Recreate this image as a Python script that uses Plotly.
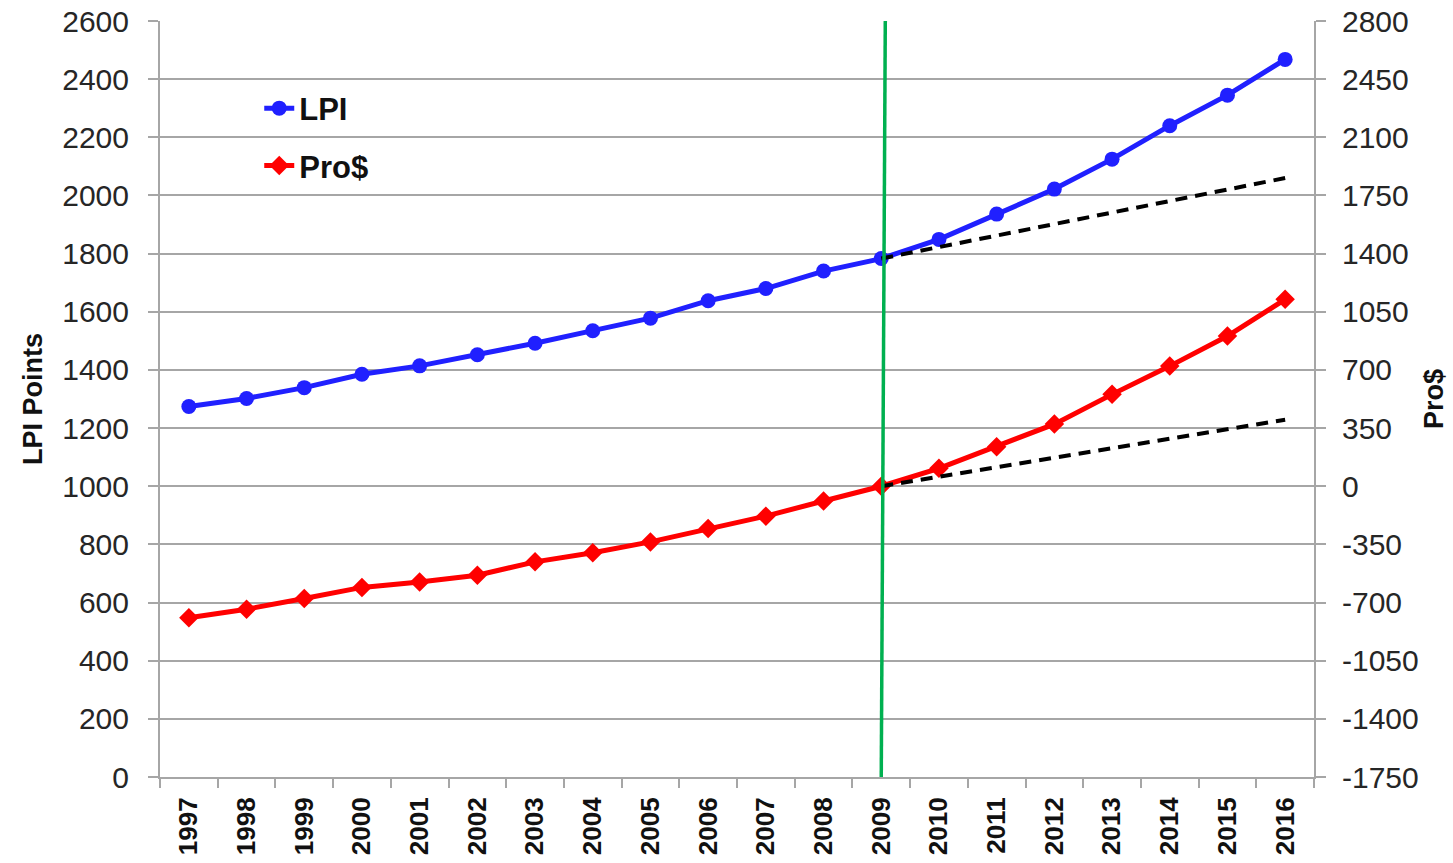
import plotly.graph_objects as go

years = [str(y) for y in range(1997, 2017)]
lpi = [1274, 1302, 1339, 1385, 1414, 1452, 1492, 1535, 1578, 1638,
       1680, 1740, 1783, 1849, 1936, 2022, 2125, 2240, 2345, 2468]
pros = [-791, -740, -676, -609, -576, -536, -455, -400, -335, -255,
        -180, -89, 0, 108, 238, 374, 553, 723, 904, 1125]
trend_years = ["2009", "2016"]
lpi_trend = [1783, 2060]
pros_trend = [0, 400]
left_ticks = list(range(0, 2601, 200))
right_ticks = list(range(-1750, 2801, 350))
right_labels = [str(v) for v in right_ticks]  # plain hyphen minus as in the reference

FONT = "Liberation Sans, Arial, sans-serif"
GRID = "#a6a6a6"
TXT = "#262626"

fig = go.Figure()
fig.add_trace(go.Scatter(x=years, y=lpi, name="LPI", mode="lines+markers", legendgroup="a",
                         line=dict(color="#2020ff", width=5),
                         marker=dict(symbol="circle", size=15, color="#2020ff"), yaxis="y"))
fig.add_trace(go.Scatter(x=years, y=pros, name="Pro$", mode="lines+markers", legendgroup="b",
                         line=dict(color="#ff0000", width=5),
                         marker=dict(symbol="diamond", size=15, color="#ff0000"), yaxis="y2"))
fig.add_trace(go.Scatter(x=trend_years, y=lpi_trend, mode="lines", showlegend=False,
                         line=dict(color="black", width=4, dash="12px,8px"), yaxis="y"))
fig.add_trace(go.Scatter(x=trend_years, y=pros_trend, mode="lines", showlegend=False,
                         line=dict(color="black", width=4, dash="12px,8px"), yaxis="y2"))

# vertical green marker line at 2009 (category index 12)
fig.add_shape(type="line", xref="x", yref="y", x0=12, y0=0, x1=12.07, y1=2600,
              line=dict(color="#00b050", width=3.5), layer="above")

fig.update_layout(
    width=1453, height=863,
    margin=dict(l=160, r=139, t=21, b=86, autoexpand=False),
    paper_bgcolor="white", plot_bgcolor="white",
    font=dict(family=FONT, color=TXT, size=28),
    legend=dict(x=0.086, y=0.92, xanchor="left", yanchor="top",
                font=dict(size=31, color="#111111", family=FONT, weight="bold"),
                bgcolor="rgba(0,0,0,0)", tracegroupgap=14, traceorder="grouped"),
    xaxis=dict(type="category", categoryorder="array", categoryarray=years,
               tickson="boundaries", ticks="outside", ticklen=9,
               tickcolor=GRID, tickwidth=2, showline=True, linecolor=GRID, linewidth=2,
               showgrid=False, tickangle=-90, automargin=False, ticklabelstandoff=8,
               tickfont=dict(size=26, color="#111111", family=FONT, weight="bold"),
               range=[-0.5, 19.5]),
    yaxis=dict(range=[0, 2600.05], tickmode="array", tickvals=left_ticks,
               showgrid=True, gridcolor=GRID, gridwidth=2, ticklabeloverflow="allow",
               ticks="outside", ticklen=10, tickcolor=GRID, tickwidth=2, ticklabelstandoff=13,
               showline=True, linecolor=GRID, linewidth=2, zeroline=False, automargin=False,
               tickfont=dict(size=30, color=TXT, family=FONT),
               title=dict(text="LPI Points", font=dict(size=27, color="#111111", family=FONT, weight="bold"),
                          standoff=12)),
    yaxis2=dict(range=[-1750, 2800.09], tickmode="array", tickvals=right_ticks, ticktext=right_labels,
                overlaying="y", side="right", ticklabeloverflow="allow",
                showgrid=False, ticks="outside", ticklen=10, tickcolor=GRID, tickwidth=2,
                ticklabelstandoff=10,
                showline=True, linecolor=GRID, linewidth=2, zeroline=False, automargin=False,
                tickfont=dict(size=30, color=TXT, family=FONT),
                title=dict(text="Pro$", font=dict(size=27, color="#111111", family=FONT, weight="bold"),
                           standoff=6)),
)

fig.write_html("out.html", config={"displayModeBar": False},
               post_script="document.body.style.margin='0';")
